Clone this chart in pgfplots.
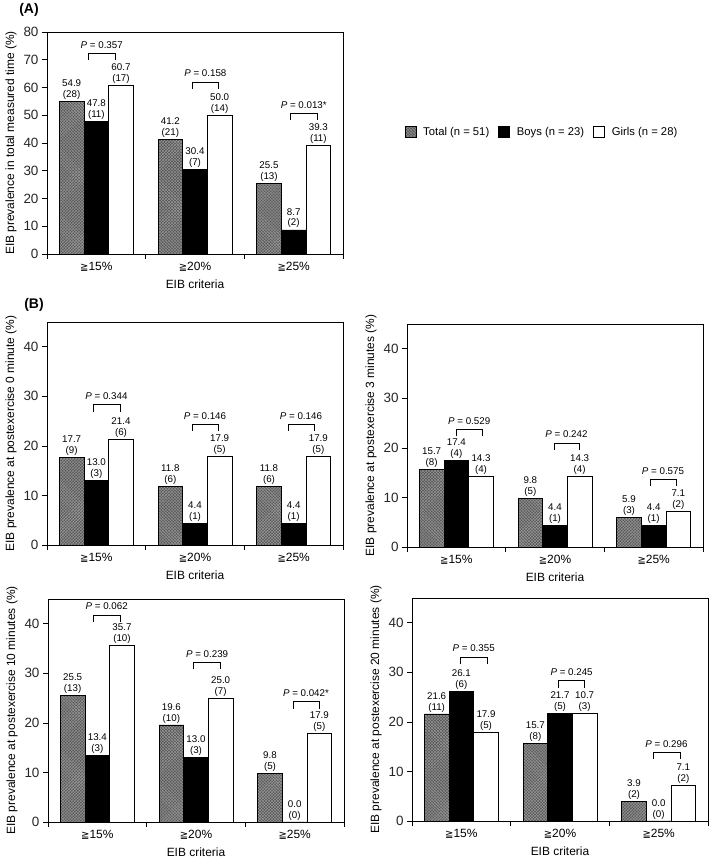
\documentclass[border=0pt]{standalone}
\usepackage{fontspec}
\setmainfont{Liberation Sans}
\newfontfamily\dv{DejaVu Sans}
\usepackage{pgfplots}
\pgfplotsset{compat=1.18}
\usepackage{pgfplotstable}
\usetikzlibrary{patterns,calc}

\definecolor{totfill}{gray}{0.34}
\definecolor{totline}{gray}{0.6}

\tikzset{
 totbar/.style={fill=totfill, draw=black, line width=0.7pt, postaction={pattern=crosshatch, pattern color=totline}},
 boybar/.style={fill=black, draw=black, line width=0.7pt},
 girlbar/.style={fill=white, draw=black, line width=0.7pt},
}

\newcommand{\cat}[1]{{\dv\fontsize{10}{10}\selectfont ≧}#1\%}

\pgfplotstableread{
g t tl tn b bl bn w wl wn
0 54.9 54.9 28 47.8 47.8 11 60.7 60.7 17
1 41.2 41.2 21 30.4 30.4 7 50.0 50.0 14
2 25.5 25.5 13 8.7 8.7 2 39.3 39.3 11
}\dataA
\pgfplotstableread{
g t tl tn b bl bn w wl wn
0 17.7 17.7 9 13.0 13.0 3 21.4 21.4 6
1 11.8 11.8 6 4.4 4.4 1 17.9 17.9 5
2 11.8 11.8 6 4.4 4.4 1 17.9 17.9 5
}\dataBa
\pgfplotstableread{
g t tl tn b bl bn w wl wn
0 15.7 15.7 8 17.4 17.4 4 14.3 14.3 4
1 9.8 9.8 5 4.4 4.4 1 14.3 14.3 4
2 5.9 5.9 3 4.4 4.4 1 7.1 7.1 2
}\dataBb
\pgfplotstableread{
g t tl tn b bl bn w wl wn
0 25.5 25.5 13 13.4 13.4 3 35.7 35.7 10
1 19.6 19.6 10 13.0 13.0 3 25.0 25.0 7
2 9.8 9.8 5 0.0 0.0 0 17.9 17.9 5
}\dataBc
\pgfplotstableread{
g t tl tn b bl bn w wl wn
0 21.6 21.6 11 26.1 26.1 6 17.9 17.9 5
1 15.7 15.7 8 21.7 21.7 5 21.7 10.7 3
2 3.9 3.9 2 0.0 0.0 0 7.1 7.1 2
}\dataBd

\pgfplotsset{
 panel/.style={
  scale only axis, width=296bp,
  xmin=-0.5, xmax=2.5, ymin=0,
  axis line style={line width=0.7pt},
  axis on top,
  tick align=outside, tick pos=left,
  major tick length=5bp,
  tick style={line width=0.6pt, black},
  xtick={-0.5,0.5,1.5,2.5}, xticklabels={},
  extra x ticks={0,1,2},
  extra x tick labels={\cat{15},\cat{20},\cat{25}},
  extra x tick style={tick style={draw=none}},
  xticklabel style={font=\fontsize{12}{12}\selectfont},
  yticklabel style={font=\fontsize{13.5}{13.5}\selectfont, text=black!85},
  /pgf/number format/assume math mode=true,
  xlabel={EIB criteria},
  xlabel style={yshift=4bp},
  label style={font=\fontsize{12}{14}\selectfont},
  clip=false,
 },
 barplot/.style={ybar, bar shift=0pt, bar width=0.25, forget plot,
  point meta=explicit symbolic,
  nodes near coords={\pgfplotspointmeta\\(\pgfmathprintnumber{\nn})},
  nodes near coords style={font=\fontsize{9.8}{11}\selectfont, align=center, inner sep=1.5bp, anchor=south},
 },
}

\newcommand{\bars}[1]{%
 \addplot[barplot, totbar, visualization depends on={\thisrow{tn}\as\nn}] table[x expr=\thisrow{g}-0.25, y=t, meta=tl]{#1};
 \addplot[barplot, boybar, visualization depends on={\thisrow{bn}\as\nn}] table[x=g, y=b, meta=bl]{#1};
 \addplot[barplot, girlbar, visualization depends on={\thisrow{wn}\as\nn}] table[x expr=\thisrow{g}+0.25, y=w, meta=wl]{#1};
}

\newcommand{\pbr}[4]{%
 \draw[line width=0.6pt] ([yshift=-7bp]axis cs:#1,#3) -- (axis cs:#1,#3) -- (axis cs:#2,#3) -- ([yshift=-7bp]axis cs:#2,#3);
 \node[font=\fontsize{9.8}{10}\selectfont, anchor=base, inner sep=0pt, yshift=5bp] at ($(axis cs:#1,#3)!0.5!(axis cs:#2,#3)$) {\textit{P} = #4};
}

\begin{document}
\begin{tikzpicture}
\useasboundingbox (0,0) rectangle (709bp,858bp);

\node[font=\bfseries\fontsize{14}{14}\selectfont] at (29bp,848bp) {(A)};
\node[font=\bfseries\fontsize{14}{14}\selectfont] at (34bp,553bp) {(B)};

% Panel A
\begin{axis}[panel, at={(47bp,604bp)}, anchor=south west, height=222bp,
  ymax=80, ytick={0,10,...,80},
  ylabel={EIB prevalence in total measured time (\%)},
  legend style={at={(1.672,0.55)}, anchor=center, draw=none, fill=none,
    legend columns=3, font=\fontsize{11.3}{12}\selectfont,
    /tikz/every odd column/.append style={column sep=5bp},
    /tikz/every even column/.append style={column sep=7bp}},
  ]
\bars{\dataA}
\pbr{-0.08}{0.19}{72.4}{0.357}
\pbr{0.97}{1.24}{62}{0.158}
\pbr{1.97}{2.235}{50.8}{0.013*}
\addlegendimage{legend image code/.code={\draw[totbar] (0bp,-5.5bp) rectangle (11bp,5.5bp);}}
\addlegendentry{Total (n = 51)}
\addlegendimage{legend image code/.code={\draw[boybar] (0bp,-5.5bp) rectangle (11bp,5.5bp);}}
\addlegendentry{Boys (n = 23)}
\addlegendimage{legend image code/.code={\draw[girlbar] (0bp,-5.5bp) rectangle (11bp,5.5bp);}}
\addlegendentry{Girls (n = 28)}
\end{axis}

% Panel B1
\begin{axis}[panel, at={(47bp,313bp)}, anchor=south west, height=223bp,
  ymax=45, ytick={0,10,...,40},
  ylabel={EIB prevalence at postexercise 0 minute (\%)}]
\bars{\dataBa}
\pbr{-0.035}{0.24}{28.3}{0.344}
\pbr{0.97}{1.233}{24.4}{0.146}
\pbr{1.942}{2.206}{24.4}{0.146}
\end{axis}

% Panel B2
\begin{axis}[panel, at={(407bp,311bp)}, anchor=south west, height=223bp,
  ymax=45, ytick={0,10,...,40},
  ylabel={EIB prevalence at postexercise 3 minutes (\%)}]
\bars{\dataBb}
\pbr{0.0}{0.26}{23.8}{0.529}
\pbr{0.99}{1.243}{21.0}{0.242}
\pbr{1.963}{2.226}{13.7}{0.575}
\end{axis}

% Panel B3
\begin{axis}[panel, at={(48bp,36bp)}, anchor=south west, height=223bp,
  ymax=45, ytick={0,10,...,40},
  ylabel={EIB prevalence at postexercise 10 minutes (\%)}]
\bars{\dataBc}
\pbr{-0.042}{0.232}{41.8}{0.062}
\pbr{0.975}{1.25}{32.2}{0.239}
\pbr{1.982}{2.247}{24.3}{0.042*}
\end{axis}

% Panel B4
\begin{axis}[panel, at={(412bp,37bp)}, anchor=south west, height=223bp,
  ymax=45, ytick={0,10,...,40},
  ylabel={EIB prevalence at postexercise 20 minutes (\%)}]
\bars{\dataBd}
\pbr{-0.012}{0.263}{33.1}{0.355}
\pbr{0.985}{1.25}{28.3}{0.245}
\pbr{1.941}{2.216}{13.9}{0.296}
\end{axis}
\end{tikzpicture}
\end{document}
